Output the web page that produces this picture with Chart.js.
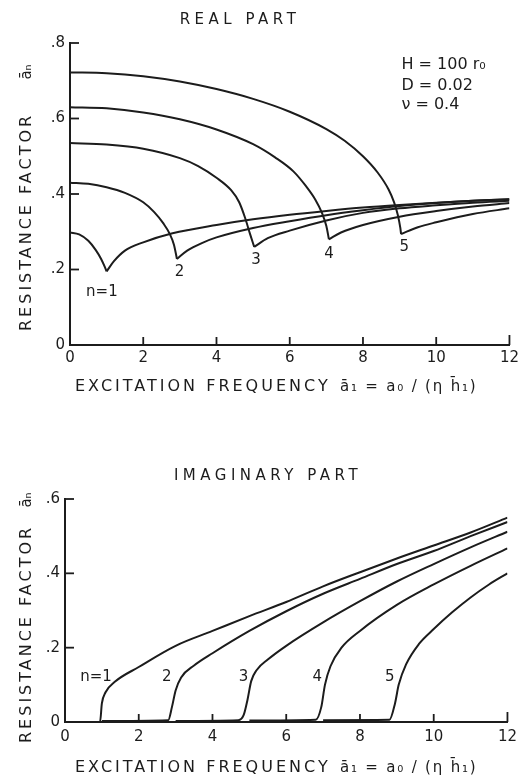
<!DOCTYPE html>
<html>
<head>
<meta charset="utf-8">
<script src="https://cdn.jsdelivr.net/npm/chart.js@4.4.1/dist/chart.umd.min.js"></script>
<style>
	html, body { margin: 0; padding: 0; background: #fff; }
	.wrap { position: absolute; left: 0; width: 523px; }
	#realWrap { top: 0; height: 400px; }
	#imagWrap { top: 400px; height: 383px; }
</style>
</head>
<body>
<div class="wrap" id="realWrap"><canvas id="realChart" width="523" height="400"></canvas></div>
<div class="wrap" id="imagWrap"><canvas id="imagChart" width="523" height="383"></canvas></div>
<script>
// real part: falling branch of each mode up to its cut-off, then the rising branch
const reFallX1 = [0, 0.25, 0.5, 0.7, 0.85, 0.95, 1.0];
const reFallY1 = [0.298, 0.293, 0.276, 0.252, 0.228, 0.207, 0.195];
const reRiseX1 = [1.0, 1.2, 1.5, 2, 2.8, 4, 5, 6, 7, 8, 9, 10, 11, 12];
const reRiseY1 = [0.195, 0.222, 0.25, 0.272, 0.296, 0.318, 0.333, 0.345, 0.355, 0.364, 0.371, 0.377, 0.382, 0.386];

const reFallX2 = [0, 0.5, 1, 1.5, 2, 2.3, 2.55, 2.72, 2.84, 2.92];
const reFallY2 = [0.43, 0.427, 0.418, 0.403, 0.378, 0.352, 0.322, 0.295, 0.265, 0.228];
const reRiseX2 = [2.92, 3.2, 3.6, 4, 5, 6, 7, 8, 9, 10, 11, 12];
const reRiseY2 = [0.228, 0.25, 0.27, 0.285, 0.31, 0.328, 0.344, 0.357, 0.368, 0.376, 0.382, 0.386];

const reFallX3 = [0, 1, 2, 3, 3.5, 4, 4.4, 4.62, 4.78, 4.92, 5.03];
const reFallY3 = [0.535, 0.531, 0.52, 0.495, 0.474, 0.443, 0.41, 0.378, 0.337, 0.293, 0.26];
const reRiseX3 = [5.03, 5.4, 6, 7, 8, 9, 10, 11, 12];
const reRiseY3 = [0.26, 0.283, 0.303, 0.33, 0.35, 0.362, 0.37, 0.377, 0.382];

const reFallX4 = [0, 1, 2, 3, 4, 5, 5.6, 6.1, 6.45, 6.7, 6.88, 7.0, 7.07];
const reFallY4 = [0.63, 0.627, 0.616, 0.598, 0.571, 0.532, 0.497, 0.46, 0.42, 0.385, 0.35, 0.315, 0.28];
const reRiseX4 = [7.07, 7.4, 8, 9, 10, 11, 12];
const reRiseY4 = [0.28, 0.298, 0.318, 0.34, 0.355, 0.367, 0.376];

const reFallX5 = [0, 1, 2, 3, 4, 5, 6, 7, 7.5, 8, 8.4, 8.7, 8.85, 8.95, 9.02, 9.04];
const reFallY5 = [0.722, 0.72, 0.712, 0.698, 0.678, 0.652, 0.618, 0.572, 0.541, 0.5, 0.457, 0.412, 0.378, 0.345, 0.31, 0.294];
const reRiseX5 = [9.04, 9.5, 10, 11, 12];
const reRiseY5 = [0.294, 0.312, 0.325, 0.347, 0.362];

// imaginary part
const imX1 = [0, 0.95, 1.0, 1.1, 1.35, 2, 3, 4, 5, 6, 7, 8, 9, 10, 11, 12];
const imY1 = [0, 0, 0.05, 0.08, 0.108, 0.148, 0.205, 0.245, 0.285, 0.323, 0.365, 0.403, 0.44, 0.475, 0.51, 0.55];
const imX2 = [1, 2.8, 2.9, 3.0, 3.15, 3.5, 4, 5, 6, 7, 8, 9, 10, 11, 12];
const imY2 = [0.003, 0.005, 0.04, 0.085, 0.12, 0.152, 0.185, 0.245, 0.298, 0.345, 0.385, 0.425, 0.46, 0.5, 0.538];
const imX3 = [3, 4.7, 4.85, 4.95, 5.05, 5.2, 5.5, 6, 7, 8, 9, 10, 11, 12];
const imY3 = [0.003, 0.005, 0.02, 0.06, 0.11, 0.14, 0.168, 0.205, 0.268, 0.325, 0.378, 0.425, 0.47, 0.512];
const imX4 = [5, 6.8, 6.95, 7.05, 7.2, 7.5, 8, 9, 10, 11, 12];
const imY4 = [0.004, 0.006, 0.04, 0.1, 0.15, 0.2, 0.245, 0.315, 0.37, 0.42, 0.467];
const imX5 = [7, 8.8, 8.95, 9.05, 9.25, 9.6, 10, 10.5, 11, 11.5, 12];
const imY5 = [0.005, 0.006, 0.05, 0.1, 0.155, 0.21, 0.25, 0.295, 0.335, 0.37, 0.4];

// curve labels (data coordinates)
const curveNames = ['n=1', '2', '3', '4', '5'];
const reLabelX = [0.87, 2.99, 5.08, 7.07, 9.13];
const reLabelY = [0.141, 0.192, 0.225, 0.242, 0.26];
const imLabelX = [0.84, 2.76, 4.84, 6.84, 8.81];
const imLabelY = [0.12, 0.12, 0.12, 0.12, 0.12];

// parameters box of the real part
const paramText = ['H = 100 r₀', 'D = 0.02', 'ν = 0.4'];
const paramX = 9.05;
const paramY = [0.742, 0.686, 0.636];

const ink = '#1c1c1c';
const family = '"DejaVu Sans", sans-serif';

function pts(xs, ys) {
	return xs.map((x, i) => ({ x: x, y: ys[i] }));
}

function spacedText(ctx, text, x, y, size, spacing, align, angle) {
	ctx.save();
	ctx.translate(x, y);
	if (angle) ctx.rotate(angle);
	ctx.font = size + 'px ' + family;
	ctx.letterSpacing = spacing + 'px';
	ctx.fillStyle = ink;
	ctx.textAlign = align || 'center';
	ctx.textBaseline = 'middle';
	ctx.fillText(text, 0, 0);
	ctx.restore();
}

// inward tick marks, titles and curve labels
const figurePlugin = {
	id: 'figure',
	afterDraw(chart, args, o) {
		const ctx = chart.ctx;
		const xs = chart.scales.x;
		const ys = chart.scales.y;

		ctx.save();
		ctx.strokeStyle = ink;
		ctx.lineWidth = 1.8;
		xs.ticks.forEach((t) => {
			if (t.value === 0) return;
			const px = xs.getPixelForValue(t.value);
			ctx.beginPath();
			ctx.moveTo(px, ys.bottom);
			ctx.lineTo(px, ys.bottom - (t.value === 12 ? 10 : 8));
			ctx.stroke();
		});
		ys.ticks.forEach((t) => {
			if (t.value === 0) return;
			const py = ys.getPixelForValue(t.value);
			ctx.beginPath();
			ctx.moveTo(xs.left, py);
			ctx.lineTo(xs.left + 9, py);
			ctx.stroke();
		});
		ctx.restore();

		spacedText(ctx, o.title, o.titleX, o.titleY, 15, 4.5);
		spacedText(ctx, 'EXCITATION FREQUENCY', 75, o.xTitleY, 16, 3, 'left');
		spacedText(ctx, 'ā₁ = a₀ / (η h̄₁)', 340, o.xTitleY, 15, 1.8, 'left');
		spacedText(ctx, 'RESISTANCE FACTOR', 27, o.yTitleStart, 16, 3, 'left', -Math.PI / 2);
		spacedText(ctx, 'āₙ', 27, o.yTitleSym, 15, 0, 'center', -Math.PI / 2);

		o.labelX.forEach((lx, i) => {
			spacedText(ctx, curveNames[i], xs.getPixelForValue(lx), ys.getPixelForValue(o.labelY[i]), 15, 0);
		});

		if (o.params) {
			o.params.forEach((txt, i) => {
				spacedText(ctx, txt, xs.getPixelForValue(paramX), ys.getPixelForValue(paramY[i]), 16, 0, 'left');
			});
		}
	}
};

function makeChart(id, datasets, yMax, pad, yWidth, xHeight, xPad, fig) {
	return new Chart(document.getElementById(id), {
		type: 'line',
		data: { datasets: datasets },
		options: {
			responsive: false,
			animation: false,
			layout: { padding: pad },
			plugins: {
				legend: { display: false },
				tooltip: { enabled: false },
				figure: fig
			},
			elements: {
				point: { radius: 0 },
				line: { borderColor: ink, borderWidth: 2, cubicInterpolationMode: 'monotone', fill: false }
			},
			scales: {
				x: {
					type: 'linear', min: 0, max: 12,
					grid: { display: false, drawTicks: false },
					border: { color: ink, width: 2 },
					ticks: { stepSize: 2, color: ink, padding: xPad, maxRotation: 0, font: { family: family, size: 15 } },
					afterFit: (s) => { s.height = xHeight; }
				},
				y: {
					type: 'linear', min: 0, max: yMax,
					grid: { display: false, drawTicks: false },
					border: { color: ink, width: 2 },
					ticks: {
						stepSize: 0.2, color: ink, padding: 5, font: { family: family, size: 15 },
						callback: (v) => v === 0 ? '0' : '.' + Math.round(v * 10)
					},
					afterFit: (s) => { s.width = yWidth; }
				}
			}
		},
		plugins: [figurePlugin]
	});
}

const realSets = [
	pts(reFallX1, reFallY1), pts(reRiseX1, reRiseY1),
	pts(reFallX2, reFallY2), pts(reRiseX2, reRiseY2),
	pts(reFallX3, reFallY3), pts(reRiseX3, reRiseY3),
	pts(reFallX4, reFallY4), pts(reRiseX4, reRiseY4),
	pts(reFallX5, reFallY5), pts(reRiseX5, reRiseY5)
].map((d) => ({ data: d }));

const imagSets = [
	pts(imX1, imY1), pts(imX2, imY2), pts(imX3, imY3), pts(imX4, imY4), pts(imX5, imY5)
].map((d) => ({ data: d }));

makeChart('realChart', realSets, 0.8, { top: 43, right: 11, left: 0, bottom: 0 }, 70, 55, 4, {
	title: 'REAL PART', titleX: 240, titleY: 20,
	xTitleY: 387, yTitleStart: 331, yTitleSym: 72,
	labelX: reLabelX, labelY: reLabelY, params: paramText
});

makeChart('imagChart', imagSets, 0.6, { top: 99, right: 14, left: 0, bottom: 0 }, 65, 61, 6, {
	title: 'IMAGINARY PART', titleX: 268, titleY: 76,
	xTitleY: 368, yTitleStart: 343, yTitleSym: 100,
	labelX: imLabelX, labelY: imLabelY, params: null
});
</script>
</body>
</html>
